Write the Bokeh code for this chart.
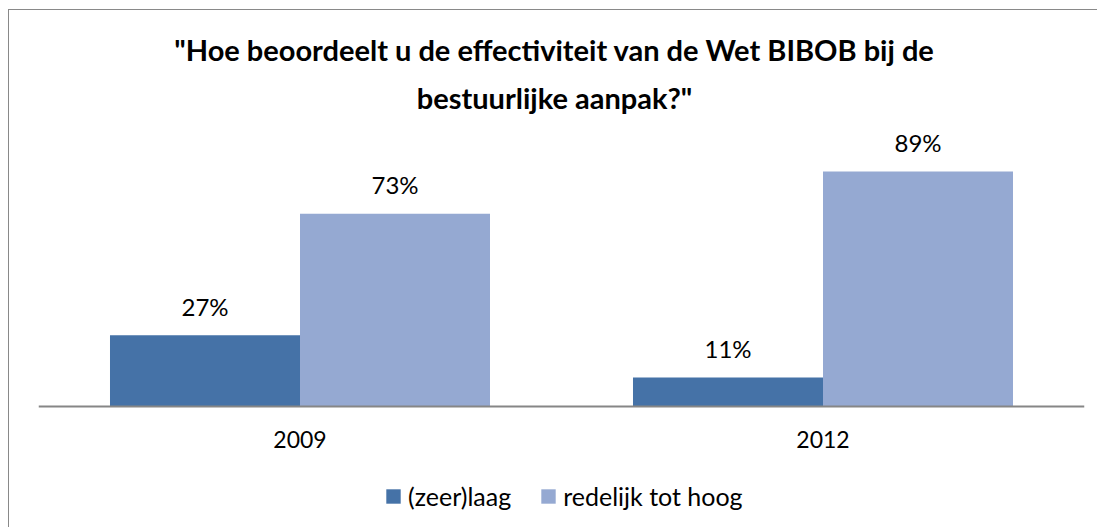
from bokeh.plotting import figure
from bokeh.models import ColumnDataSource, FactorRange, Range1d, Legend, LegendItem, Span
from bokeh.transform import dodge
from bokeh.core.properties import value
from bokeh.embed import file_html
from bokeh.resources import INLINE

years = ["2009", "2012"]
laag = [0.27, 0.11]
hoog = [0.73, 0.89]
series_names = ["(zeer)laag", "redelijk tot hoog"]
title_lines = ["\"Hoe beoordeelt u de effectiviteit van de Wet BIBOB bij de", "bestuurlijke aanpak?\""]

DARK = "#4572A7"
LIGHT = "#95A9D2"
FONT = "Lato"
YTOP = 1.5
YBOT = -0.4621

src = ColumnDataSource(dict(
    year=years, laag=laag, hoog=hoog,
    zero=[0, 0],
    laag_lbl=[f"{round(v*100)}%" for v in laag],
    hoog_lbl=[f"{round(v*100)}%" for v in hoog],
))

# the frame spans the full height; the category axis line is drawn at y = 0
p = figure(width=1089, height=518, x_range=FactorRange(*years), y_range=Range1d(YBOT, YTOP),
           output_backend="svg", toolbar_location=None,
           min_border_left=29, min_border_right=14, min_border_top=0, min_border_bottom=0)
p.styles = {"margin-left": "8px", "margin-top": "9px",
            "border-left": "1px solid #898989", "border-top": "1px solid #898989"}
p.outline_line_color = None
p.xgrid.visible = False
p.ygrid.visible = False
p.xaxis.visible = False
p.yaxis.visible = False

bw = 0.3633
r1 = p.vbar(x=dodge("year", -bw / 2, range=p.x_range), top="laag", bottom=0, width=bw, source=src,
            fill_color=DARK, line_color=None)
r2 = p.vbar(x=dodge("year", bw / 2, range=p.x_range), top="hoog", bottom=0, width=bw, source=src,
            fill_color=LIGHT, line_color=None)

p.add_layout(Span(location=0, dimension="width", line_color="#868686", line_width=2))

# category labels
p.text(x="year", y="zero", text="year", source=src, y_offset=33,
       text_align="center", text_baseline="alphabetic",
       text_font=value(FONT), text_font_size="23px", text_color="#000000")

# data labels
p.text(x=dodge("year", -bw / 2, range=p.x_range), y="laag", text="laag_lbl", source=src,
       text_align="center", text_baseline="alphabetic", y_offset=-29,
       text_font=value(FONT), text_font_size="24px", text_color="#000000")
p.text(x=dodge("year", bw / 2, range=p.x_range), y="hoog", text="hoog_lbl", source=src,
       text_align="center", text_baseline="alphabetic", y_offset=-29,
       text_font=value(FONT), text_font_size="24px", text_color="#000000")

# title (two lines), centred on the whole chart area
p.text(x=[1.0, 1.0], y=[YTOP, YTOP], text=title_lines, y_offset=[39, 87], x_offset=-7,
       text_align="center", text_baseline="alphabetic", text_font=value(FONT),
       text_font_style="bold", text_font_size="29px", text_color="#000000")

legend = Legend(items=[LegendItem(label=series_names[0], renderers=[r1]),
                       LegendItem(label=series_names[1], renderers=[r2])],
                orientation="horizontal", location=(346, 17),
                glyph_width=18, glyph_height=18, label_standoff=6, spacing=28,
                padding=0, margin=0, border_line_color=None, background_fill_alpha=0,
                label_text_font=FONT, label_text_font_size="25px", label_text_color="#000000")
p.add_layout(legend, "center")

open("out.html", "w").write(file_html(p, INLINE))
